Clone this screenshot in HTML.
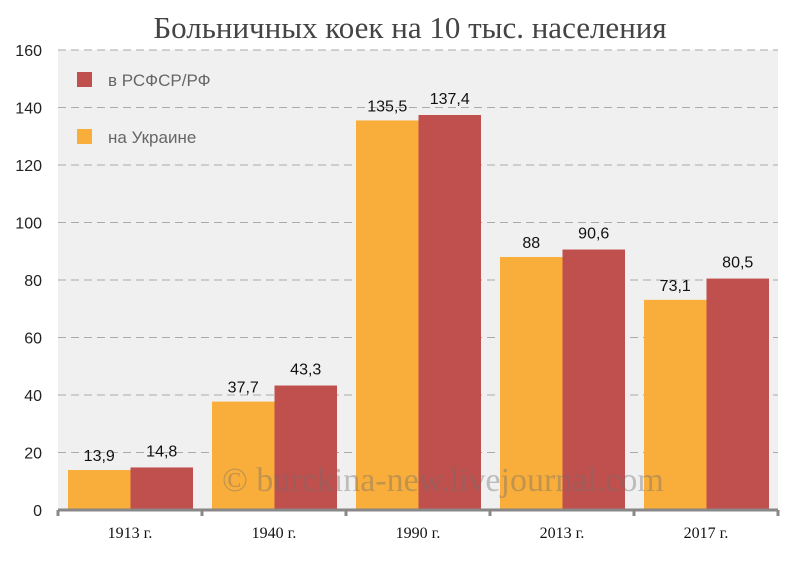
<!DOCTYPE html>
<html><head><meta charset="utf-8"><style>
body{margin:0;background:#fff;width:800px;height:558px;overflow:hidden}
</style></head><body>
<svg width="800" height="558" xmlns="http://www.w3.org/2000/svg">
<text x="410" y="38" text-anchor="middle" font-family="Liberation Serif, serif" font-size="31" fill="#444">Больничных коек на 10 тыс. населения</text>
<rect x="58" y="50" width="720" height="460" fill="#f0f0f0"/>
<g id="grid"></g><g id="bars"></g><g id="labels"></g>
<g>
<rect x="77" y="72" width="15" height="15" fill="#c0504d"/>
<text x="108" y="86" font-family="Liberation Sans, sans-serif" font-size="17" fill="#666">в РСФСР/РФ</text>
<rect x="77" y="129" width="15" height="15" fill="#f9ad3a"/>
<text x="108" y="143" font-family="Liberation Sans, sans-serif" font-size="17" fill="#666">на Украине</text>
</g>
<text x="222" y="491" font-family="Liberation Serif, serif" font-size="34" fill="rgba(110,110,110,0.4)">© burckina-new.livejournal.com</text>
</svg>
<script>
const categories=["1913 г.","1940 г.","1990 г.","2013 г.","2017 г."];
const ukraine=[13.9,37.7,135.5,88,73.1];
const rf=[14.8,43.3,137.4,90.6,80.5];
const yTicks=[0,20,40,60,80,100,120,140,160];
const ns="http://www.w3.org/2000/svg";
const x0=58,x1=778,y0=510,y1=50,ymax=160;
const y=v=>y0-(v/ymax)*(y0-y1);
const gw=(x1-x0)/categories.length;
const grid=document.getElementById('grid'),bars=document.getElementById('bars'),labels=document.getElementById('labels');
function mk(tag,attrs,parent,txt){const e=document.createElementNS(ns,tag);for(const k in attrs)e.setAttribute(k,attrs[k]);if(txt!==undefined)e.textContent=txt;parent.appendChild(e);return e;}
yTicks.forEach(t=>{
 if(t>0){const l=mk('line',{x1:x0,x2:x1,y1:y(t),y2:y(t),stroke:'#aaa','stroke-width':1,'stroke-dasharray':'8,5'},grid);
 
 }
 const tx=mk('text',{x:42,y:y(t)+6,'text-anchor':'end','font-family':'Liberation Sans, sans-serif','font-size':16,fill:'#222'},labels,String(t));
 
 
});
const fmt=v=>String(v).replace('.',',');
categories.forEach((c,i)=>{
 const gx=x0+i*gw, bw=62.5;
 const ox=gx+10, rx=ox+bw;
 const b1=mk('rect',{x:ox,y:y(ukraine[i]),width:bw,height:y0-y(ukraine[i]),fill:'#f9ad3a'},bars);
 
 
 const b2=mk('rect',{x:rx,y:y(rf[i]),width:bw,height:y0-y(rf[i]),fill:'#c0504d'},bars);
 
 
 const l1=mk('text',{x:ox+bw/2,y:y(ukraine[i])-9,'text-anchor':'middle','font-family':'Liberation Sans, sans-serif','font-size':16,fill:'#111'},labels,fmt(ukraine[i]));
 
 
 const l2=mk('text',{x:rx+bw/2,y:y(rf[i])-11,'text-anchor':'middle','font-family':'Liberation Sans, sans-serif','font-size':16,fill:'#111'},labels,fmt(rf[i]));
 
 
 const xl=mk('text',{x:gx+gw/2,y:538,'text-anchor':'middle','font-family':'Liberation Serif, serif','font-size':16,fill:'#111'},labels,c);
 
 
});
const ax=mk('line',{x1:x0,x2:x1,y1:y0,y2:y0,stroke:'#888','stroke-width':3},labels);


for(let i=0;i<=categories.length;i++){
 const tk=mk('line',{x1:x0+i*gw,x2:x0+i*gw,y1:y0,y2:y0+6,stroke:'#888','stroke-width':3},labels);
 
 
}
</script>
</body></html>
